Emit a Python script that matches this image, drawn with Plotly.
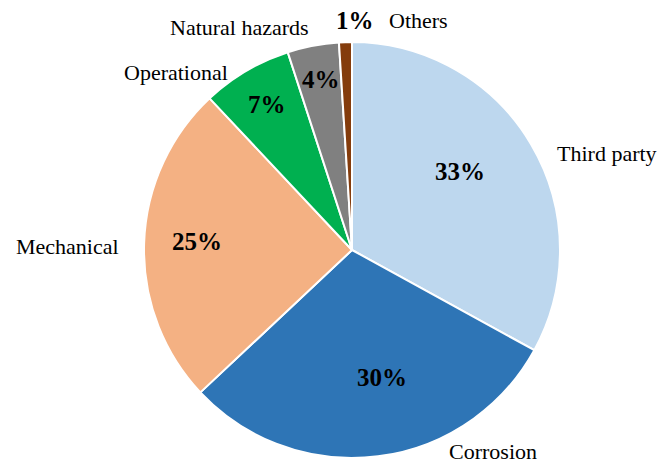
import plotly.graph_objects as go

categories = ["Third party", "Corrosion", "Mechanical", "Operational", "Natural hazards", "Others"]
values = [33, 30, 25, 7, 4, 1]
colors = ["#BDD7EE", "#2E75B6", "#F4B183", "#00B050", "#808080", "#843C0C"]

W, H = 660, 463

# window-pixel positions of category names and percentage labels
name_px = {
    "Third party": (607, 154),
    "Corrosion": (493, 451),
    "Mechanical": (67, 246),
    "Operational": (176, 72),
    "Natural hazards": (239, 27),
    "Others": (418, 20),
}
pct_px = {
    "Third party": (460, 172),
    "Corrosion": (382, 377),
    "Mechanical": (197, 242),
    "Operational": (267, 104),
    "Natural hazards": (321, 79),
    "Others": (355, 20),
}

serif = "Liberation Serif, Times New Roman, serif"


def to_paper(px, py):
    return px / W, 1 - py / H


cx, cy, r = 352, 250, 208
fig = go.Figure(go.Pie(
    labels=categories,
    values=values,
    sort=False,
    direction="clockwise",
    rotation=0,
    marker=dict(colors=colors, line=dict(color="white", width=2)),
    textinfo="none",
    showlegend=False,
    hoverinfo="label+percent",
    domain=dict(x=[(cx - r) / W, (cx + r) / W],
                y=[1 - (cy + r) / H, 1 - (cy - r) / H]),
))

total = sum(values)
for name, v in zip(categories, values):
    x, y = to_paper(*name_px[name])
    fig.add_annotation(
        x=x, y=y, xref="paper", yref="paper",
        text=name, showarrow=False, xanchor="center", yanchor="middle",
        font=dict(family=serif, size=22, color="black"),
    )
    x, y = to_paper(*pct_px[name])
    fig.add_annotation(
        x=x, y=y, xref="paper", yref="paper",
        text=f"<b>{round(100 * v / total)}%</b>", showarrow=False,
        xanchor="center", yanchor="middle",
        font=dict(family=serif, size=25, color="black"),
    )

fig.update_layout(
    width=W, height=H,
    margin=dict(l=0, r=0, t=0, b=0),
    paper_bgcolor="white",
    plot_bgcolor="white",
)

fig.write_html(
    "out.html",
    config={"displayModeBar": False},
    post_script="document.body.style.margin='0';document.body.style.overflow='hidden';",
)
